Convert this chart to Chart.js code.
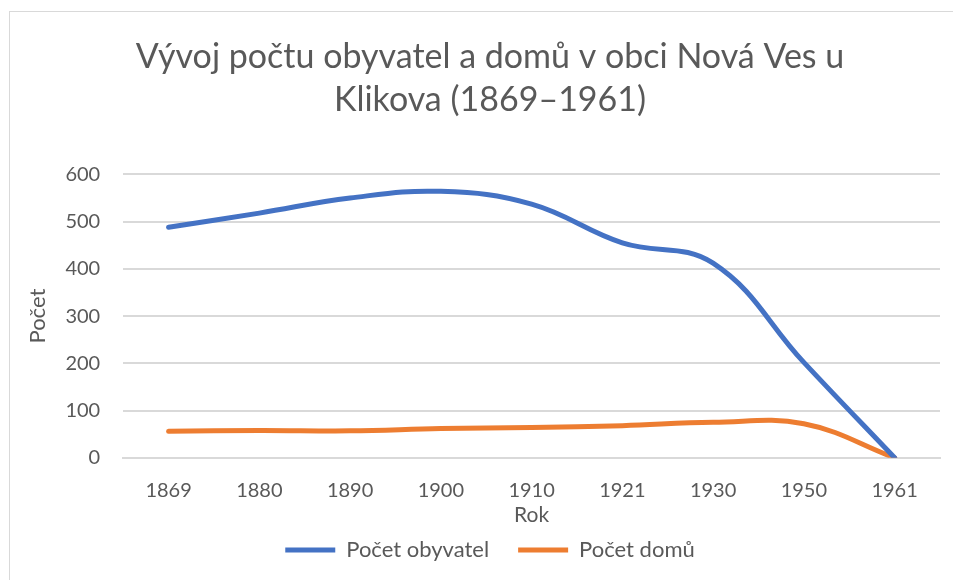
<!DOCTYPE html>
<html lang="cs">
<head>
<meta charset="UTF-8">
<title>Vývoj počtu obyvatel a domů</title>
<script src="https://cdn.jsdelivr.net/npm/chart.js"></script>
<style>
  html, body { margin: 0; padding: 0; background: #fff; overflow: hidden; }
  #wrap { position: relative; width: 953px; height: 580px; }
  #frame { position: absolute; left: 9px; top: 11px; width: 1000px; height: 1000px; border: 1px solid #d9d9d9; }
  canvas { position: absolute; left: 0; top: 0; }
</style>
</head>
<body>
<div id="wrap">
  <div id="frame"></div>
  <canvas id="graf" width="953" height="580"></canvas>
</div>
<script>
// data
var roky = ['1869', '1880', '1890', '1900', '1910', '1921', '1930', '1950', '1961'];
var obyvatel = [488, 518, 550, 564, 537, 455, 412, 202, 0];
var domu = [56, 58, 57, 62, 64, 68, 75, 72, 0];
var yTicks = [0, 100, 200, 300, 400, 500, 600];

var sedy = '#595959';
var font = 'Lato, "Open Sans", sans-serif';

var ctx = document.getElementById('graf').getContext('2d');
var graf = new Chart(ctx, {
    type: 'line',
    data: {
        labels: roky,
        datasets: [{
            label: 'Počet obyvatel',
            data: obyvatel,
            borderColor: '#4472C4',
            backgroundColor: '#4472C4',
            borderWidth: 5,
            borderCapStyle: 'round',
            tension: 0.4,
            pointRadius: 0,
            pointStyle: 'line'
        }, {
            label: 'Počet domů',
            data: domu,
            borderColor: '#ED7D31',
            backgroundColor: '#ED7D31',
            borderWidth: 5,
            borderCapStyle: 'round',
            tension: 0.4,
            pointRadius: 0,
            pointStyle: 'line'
        }]
    },
    options: {
        responsive: false,
        animation: false,
        layout: { padding: { left: 40, right: 13, top: 22, bottom: 9 } },
        plugins: {
            title: {
                display: true,
                text: ['Vývoj počtu obyvatel a domů v obci Nová Ves u', 'Klikova (1869–1961)'],
                color: sedy,
                font: { family: font, size: 34, weight: 'normal', lineHeight: 1.27 },
                padding: { top: 13, bottom: 53 }
            },
            legend: {
                position: 'bottom',
                labels: {
                    usePointStyle: true,
                    pointStyleWidth: 50,
                    color: sedy,
                    font: { family: font, size: 22 },
                    padding: 29
                }
            },
            tooltip: { enabled: false }
        },
        scales: {
            x: {
                offset: true,
                grid: { display: false },
                border: { color: '#d9d9d9', width: 2 },
                ticks: { color: sedy, font: { family: font, size: 20 }, padding: 13 },
                title: { display: true, text: 'Rok', color: sedy, font: { family: font, size: 21 }, padding: { top: -13, bottom: -18 } }
            },
            y: {
                min: 0,
                max: 600,
                afterBuildTicks: function (axis) {
                    axis.ticks = yTicks.map(function (v) { return { value: v }; });
                },
                grid: { color: '#d9d9d9', lineWidth: 2, drawTicks: false },
                border: { display: false },
                ticks: { color: sedy, font: { family: font, size: 20 }, padding: 23 },
                title: { display: true, text: 'Počet', color: sedy, font: { family: font, size: 22 }, padding: { top: -15, bottom: -9 } }
            }
        }
    }
});
</script>
</body>
</html>
